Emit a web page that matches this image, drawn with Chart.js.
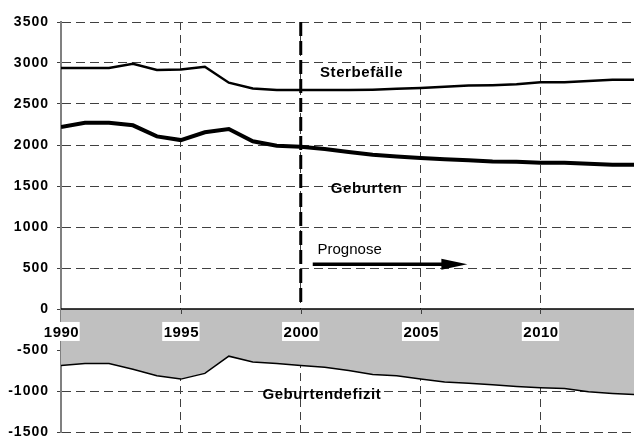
<!DOCTYPE html>
<html>
<head>
<meta charset="utf-8">
<script src="https://cdn.jsdelivr.net/npm/chart.js@4"></script>
<style>
  html, body { margin: 0; padding: 0; background: #fff; }
  #wrap { width: 634px; height: 437px; }
</style>
</head>
<body>
<div id="wrap"><canvas id="myChart" width="634" height="437"></canvas></div>
<script>
'use strict';

// values
const years = [1990, 1991, 1992, 1993, 1994, 1995, 1996, 1997, 1998, 1999, 2000, 2001, 2002,
  2003, 2004, 2005, 2006, 2007, 2008, 2009, 2010, 2011, 2012, 2013, 2014];
const sterbefaelle = [2940, 2940, 2940, 2990, 2915, 2920, 2955, 2760, 2690, 2670, 2670, 2670, 2670,
  2675, 2685, 2695, 2710, 2725, 2730, 2740, 2765, 2765, 2780, 2795, 2795];
const geburten = [2220, 2270, 2270, 2240, 2105, 2060, 2155, 2195, 2045, 1990, 1980, 1950, 1915,
  1880, 1860, 1840, 1825, 1815, 1800, 1795, 1785, 1785, 1770, 1760, 1760];
const defizit = [-690, -665, -665, -735, -815, -855, -785, -575, -645, -665, -690, -710, -750,
  -800, -815, -855, -890, -905, -925, -945, -960, -970, -1010, -1030, -1045];
const yearTicks = [1990, 1995, 2000, 2005, 2010];
const prognoseStart = 2000;

const FONT = '"Liberation Sans", Arial, sans-serif';

function toPoints(values) {
  return years.map((y, i) => ({ x: y, y: values[i] }));
}

const annotations = {
  id: 'annotations',
  beforeDraw(chart) {
    chart.ctx.letterSpacing = '1px';
  },
  afterDatasetsDraw(chart) {
    const ctx = chart.ctx;
    const xs = chart.scales.x;
    const ys = chart.scales.y;
    const area = chart.chartArea;
    const y0 = ys.getPixelForValue(0);

    ctx.save();
    // zero line
    ctx.strokeStyle = '#000';
    ctx.lineWidth = 1.5;
    ctx.beginPath();
    ctx.moveTo(area.left, y0);
    ctx.lineTo(area.right, y0);
    ctx.stroke();

    // small ticks under zero line
    ctx.strokeStyle = '#404040';
    ctx.lineWidth = 1;
    yearTicks.forEach(function (yr) {
      if (yr === 1990) return;
      const px = Math.round(xs.getPixelForValue(yr)) + 0.5;
      ctx.beginPath();
      ctx.moveTo(px, y0);
      ctx.lineTo(px, y0 + 5);
      ctx.stroke();
    });

    // forecast start line
    const px2000 = xs.getPixelForValue(prognoseStart);
    ctx.strokeStyle = '#000';
    ctx.lineWidth = 3;
    ctx.setLineDash([14, 5]);
    ctx.beginPath();
    ctx.moveTo(px2000, area.top);
    ctx.lineTo(px2000, y0 - 3);
    ctx.stroke();
    ctx.setLineDash([]);

    // year labels on white boxes
    ctx.font = 'bold 15px ' + FONT;
    ctx.letterSpacing = '0.5px';
    ctx.textAlign = 'center';
    ctx.textBaseline = 'middle';
    const ly = ys.getPixelForValue(-280);
    yearTicks.forEach(function (yr) {
      const lx = xs.getPixelForValue(yr);
      const w = ctx.measureText(String(yr)).width;
      ctx.fillStyle = '#fff';
      ctx.fillRect(lx - w / 2 - 1, ly - 10, w + 2, 19);
      ctx.fillStyle = '#000';
      ctx.fillText(String(yr), lx + 0.5, ly + 1);
    });

    // series labels
    ctx.textAlign = 'left';
    ctx.textBaseline = 'alphabetic';
    ctx.letterSpacing = '0.6px';
    ctx.fillText('Sterbefälle', xs.getPixelForValue(2000.8), ys.getPixelForValue(2835));
    ctx.fillText('Geburten', xs.getPixelForValue(2001.25), ys.getPixelForValue(1415));
    ctx.fillText('Geburtendefizit', xs.getPixelForValue(1998.4), ys.getPixelForValue(-1100));

    ctx.font = '15px ' + FONT;
    ctx.letterSpacing = '0px';
    ctx.fillText('Prognose', xs.getPixelForValue(2000.7), ys.getPixelForValue(670));

    // arrow
    const ay = ys.getPixelForValue(545);
    const ax1 = xs.getPixelForValue(2000.5);
    const ax2 = xs.getPixelForValue(2006.95);
    ctx.strokeStyle = '#000';
    ctx.lineWidth = 3.5;
    ctx.beginPath();
    ctx.moveTo(ax1, ay);
    ctx.lineTo(ax2 - 20, ay);
    ctx.stroke();
    ctx.fillStyle = '#000';
    ctx.beginPath();
    ctx.moveTo(ax2, ay);
    ctx.lineTo(ax2 - 26, ay - 5.5);
    ctx.lineTo(ax2 - 26, ay + 5.5);
    ctx.closePath();
    ctx.fill();
    ctx.restore();
  }
};

const config = {
  type: 'line',
  data: {
    datasets: [
      {
        label: 'Sterbefälle',
        data: toPoints(sterbefaelle),
        borderColor: '#000',
        borderWidth: 2.5,
        pointRadius: 0,
        fill: false,
      },
      {
        label: 'Geburten',
        data: toPoints(geburten),
        borderColor: '#000',
        borderWidth: 4,
        pointRadius: 0,
        fill: false,
      },
      {
        label: 'Geburtendefizit',
        data: toPoints(defizit),
        borderColor: '#000',
        borderWidth: 1.5,
        backgroundColor: '#c0c0c0',
        pointRadius: 0,
        fill: 'origin',
      },
    ],
  },
  options: {
    responsive: false,
    animation: false,
    layout: { padding: { top: 22, bottom: 5, left: 0, right: 0 } },
    plugins: {
      legend: { display: false },
      tooltip: { enabled: false },
    },
    scales: {
      x: {
        type: 'linear',
        min: 1990,
        max: 2013.9,
        afterBuildTicks(scale) {
          scale.ticks = yearTicks.filter(v => v !== 1990).map(v => ({ value: v }));
        },
        afterFit(scale) {
          scale.height = 0;
        },
        ticks: { display: false },
        grid: { color: '#404040', lineWidth: 1, drawTicks: false },
        border: { display: false, dash: [8, 5] },
      },
      y: {
        min: -1500,
        max: 3500,
        afterFit(scale) {
          scale.width = 61;
          scale.paddingTop = 0;
          scale.paddingBottom = 0;
        },
        ticks: {
          stepSize: 500,
          color: '#000',
          padding: 8,
          font: { family: FONT, size: 14, weight: 'bold' },
          callback: value => String(value),
        },
        grid: { color: '#404040', lineWidth: 1, tickLength: 4 },
        border: { display: true, color: '#808080', width: 2, dash: [9, 5] },
      },
    },
  },
  plugins: [annotations],
};

let chartCanvas = document.getElementById('myChart').getContext('2d');
const myChart = new Chart(chartCanvas, config);
</script>
</body>
</html>
